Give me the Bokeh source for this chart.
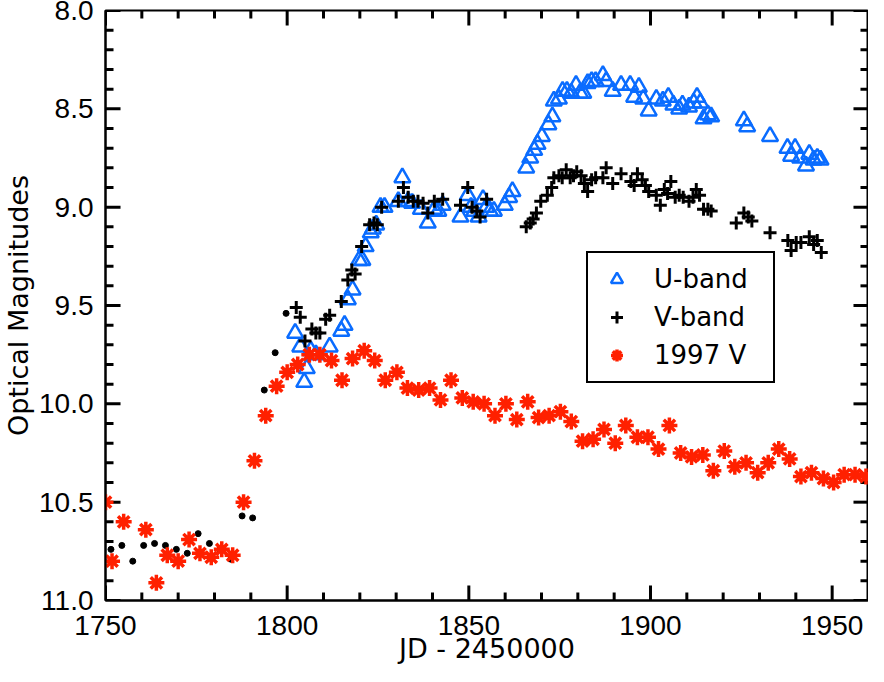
from bokeh.plotting import figure
from bokeh.models import Range1d, FixedTicker, PrintfTickFormatter, Legend, LegendItem
from bokeh.embed import file_html
from bokeh.resources import INLINE

# ---------------- data ----------------
x_lo, x_hi = 1750, 1960
y_top, y_bot = 8.0, 11.0
x_major = [1750, 1800, 1850, 1900, 1950]
x_minor = [1760, 1770, 1780, 1790, 1810, 1820, 1830, 1840, 1860, 1870, 1880, 1890,
           1910, 1920, 1930, 1940]
y_major = [8.0, 8.5, 9.0, 9.5, 10.0, 10.5, 11.0]
y_minor = [8.1, 8.2, 8.3, 8.4, 8.6, 8.7, 8.8, 8.9, 9.1, 9.2, 9.3, 9.4, 9.6, 9.7, 9.8, 9.9,
           10.1, 10.2, 10.3, 10.4, 10.6, 10.7, 10.8, 10.9]

u_jd = [1802.2, 1803.6, 1804.7, 1805.4, 1806.5, 1807.9, 1811.7, 1814.9, 1815.8, 1816.7,
        1818.0, 1819.8, 1820.7, 1821.6, 1823.0, 1823.6, 1824.5, 1825.7, 1826.8, 1830.6,
        1831.7, 1833.3, 1834.4, 1836.8, 1838.7, 1840.5, 1841.6, 1842.8, 1847.7, 1849.7,
        1850.6, 1851.5, 1852.7, 1853.9, 1854.8, 1855.8, 1856.9, 1859.9, 1861.1, 1862.0,
        1865.8, 1866.9, 1868.0, 1868.9, 1870.1, 1871.9, 1873.0, 1873.4, 1874.8, 1875.8,
        1877.0, 1878.2, 1879.5, 1880.6, 1881.5, 1882.7, 1883.8, 1884.9, 1886.9, 1887.8,
        1889.6, 1891.9, 1894.4, 1895.5, 1896.8, 1898.0, 1899.5, 1901.6, 1903.4, 1904.9,
        1906.3, 1907.9, 1908.8, 1910.6, 1911.9, 1912.8, 1913.7, 1914.6, 1915.8, 1916.7,
        1925.7, 1926.6, 1932.9, 1937.7, 1938.7, 1939.8, 1941.2, 1942.8, 1943.7, 1944.9,
        1945.9, 1946.8]
u_mag = [9.64, 9.71, 9.89, 9.82, 9.73, 9.75, 9.71, 9.63, 9.60, 9.47,
         9.42, 9.27, 9.27, 9.20, 9.13, 9.11, 9.09, 9.00, 9.00, 8.97,
         8.85, 8.97, 8.98, 9.01, 9.08, 9.01, 9.02, 8.99, 9.05, 8.94,
         9.00, 9.02, 9.05, 8.96, 9.00, 9.02, 9.02, 8.99, 8.95, 8.92,
         8.80, 8.75, 8.71, 8.68, 8.64, 8.58, 8.54, 8.46, 8.45, 8.41,
         8.41, 8.42, 8.38, 8.42, 8.42, 8.37, 8.36, 8.36, 8.33, 8.36,
         8.41, 8.38, 8.38, 8.44, 8.39, 8.45, 8.51, 8.45, 8.46, 8.44,
         8.48, 8.50, 8.48, 8.49, 8.47, 8.44, 8.47, 8.55, 8.53, 8.54,
         8.56, 8.59, 8.64, 8.70, 8.74, 8.70, 8.75, 8.79, 8.73, 8.76,
         8.75, 8.76]

v_jd = [1802.5, 1803.6, 1804.9, 1806.8, 1807.9, 1809.0, 1810.6, 1811.7, 1814.9, 1816.7,
        1817.8, 1818.7, 1820.5, 1822.7, 1823.9, 1824.8, 1826.0, 1830.6, 1832.0, 1833.3,
        1834.7, 1836.0, 1837.4, 1838.7, 1840.5, 1842.8, 1847.7, 1849.7, 1850.9, 1852.2,
        1853.1, 1854.9, 1865.8, 1866.9, 1867.7, 1868.6, 1869.8, 1871.6, 1872.8, 1873.4,
        1874.8, 1875.7, 1876.8, 1877.9, 1878.8, 1879.7, 1880.9, 1881.8, 1882.7, 1883.8,
        1884.9, 1886.9, 1887.8, 1889.6, 1891.9, 1894.6, 1895.5, 1896.4, 1897.7, 1898.6,
        1899.5, 1901.6, 1902.7, 1903.8, 1904.7, 1905.6, 1906.8, 1907.9, 1909.0, 1910.6,
        1911.7, 1912.6, 1913.5, 1914.6, 1915.8, 1916.7, 1923.6, 1925.7, 1926.9, 1927.9,
        1932.9, 1937.8, 1938.7, 1940.1, 1941.4, 1943.7, 1944.9, 1945.9, 1947.0]
v_mag = [9.51, 9.56, 9.68, 9.62, 9.64, 9.64, 9.57, 9.55, 9.48, 9.37,
         9.32, 9.34, 9.20, 9.09, 9.08, 9.09, 9.00, 8.97, 8.90, 8.95,
         8.97, 8.97, 8.98, 9.03, 8.97, 8.96, 8.99, 8.90, 9.00, 9.02,
         9.05, 8.96, 9.10, 9.08, 9.06, 9.03, 8.97, 8.94, 8.90, 8.85,
         8.84, 8.85, 8.81, 8.85, 8.84, 8.82, 8.84, 8.88, 8.92, 8.86,
         8.85, 8.85, 8.80, 8.88, 8.83, 8.87, 8.89, 8.83, 8.86, 8.89,
         8.92, 8.94, 8.99, 8.91, 8.93, 8.87, 8.95, 8.94, 8.95, 8.97,
         8.95, 8.91, 8.94, 9.01, 9.01, 9.02, 9.08, 9.03, 9.05, 9.07,
         9.13, 9.17, 9.22, 9.18, 9.18, 9.15, 9.19, 9.17, 9.23]

pre_jd = [1751.5, 1754.5, 1757.5, 1760.5, 1763.5, 1766.5, 1769.5, 1772.5, 1775.5, 1778.6,
          1781.5, 1784.5, 1787.6, 1790.5, 1793.7, 1796.7, 1799.7]
pre_mag = [10.74, 10.72, 10.80, 10.72, 10.71, 10.72, 10.74, 10.76, 10.66, 10.71,
           10.74, 10.79, 10.57, 10.58, 9.93, 9.74, 9.54]

r_jd = [1750.0, 1751.8, 1755.0, 1761.1, 1764.0, 1767.0, 1770.0, 1773.0, 1776.0, 1779.1,
        1782.0, 1785.0, 1788.0, 1791.0, 1794.1, 1797.1, 1800.0, 1802.9, 1806.1, 1809.0,
        1812.2, 1815.1, 1818.0, 1821.2, 1824.1, 1827.0, 1830.2, 1833.1, 1836.2, 1839.2,
        1842.2, 1845.1, 1848.2, 1851.2, 1854.2, 1857.2, 1860.2, 1863.2, 1866.2, 1869.2,
        1872.1, 1875.2, 1878.2, 1881.3, 1884.2, 1887.2, 1890.3, 1893.2, 1896.4, 1899.3,
        1902.2, 1905.2, 1908.3, 1911.3, 1914.4, 1917.3, 1920.3, 1923.2, 1926.3, 1929.5,
        1932.4, 1935.3, 1938.3, 1941.4, 1944.3, 1947.6, 1950.4, 1953.3, 1956.3, 1959.3]
r_mag = [10.50, 10.80, 10.60, 10.64, 10.91, 10.77, 10.80, 10.69, 10.76, 10.78,
         10.74, 10.77, 10.50, 10.29, 10.06, 9.91, 9.84, 9.80, 9.75, 9.75,
         9.78, 9.88, 9.77, 9.73, 9.78, 9.88, 9.84, 9.92, 9.93, 9.92,
         9.98, 9.88, 9.97, 9.99, 10.00, 10.06, 10.00, 10.08, 9.99, 10.07,
         10.06, 10.04, 10.09, 10.19, 10.18, 10.13, 10.20, 10.11, 10.17, 10.17,
         10.23, 10.11, 10.25, 10.27, 10.26, 10.34, 10.24, 10.32, 10.30, 10.35,
         10.30, 10.23, 10.28, 10.37, 10.35, 10.38, 10.40, 10.36, 10.36, 10.37]

series_labels = ["U-band", "V-band", "1997 V"]

# ---------------- figure ----------------
BLUE = "#0a6cff"
RED = "#ff2000"
TICK_FONT = "Liberation Sans"
TITLE_FONT = "DejaVu Sans"
TICK_SIZE = "28px"

p = figure(width=868, height=666, output_backend="svg", toolbar_location=None,
           x_range=Range1d(x_lo, x_hi), y_range=Range1d(y_bot, y_top),
           min_border_left=105, min_border_right=0, min_border_top=10, min_border_bottom=0,
           x_axis_label="JD - 2450000", y_axis_label="Optical Magnitudes")
p.grid.visible = False
p.outline_line_color = "black"
p.outline_line_width = 2
p.outline_line_alpha = 1
p.background_fill_color = "white"
p.border_fill_color = "white"


def style(ax):
    ax.axis_line_color = "black"
    ax.axis_line_width = 2
    ax.major_tick_in = 0
    ax.major_tick_out = 0
    ax.minor_tick_in = 0
    ax.minor_tick_out = 0
    ax.major_label_text_font = TICK_FONT
    ax.major_label_text_font_size = TICK_SIZE
    ax.major_label_text_color = "black"
    ax.axis_label_text_font = TITLE_FONT
    ax.axis_label_text_font_style = "normal"
    ax.axis_label_text_font_size = "27px"
    ax.axis_label_text_color = "black"


xa = p.xaxis[0]
xa.ticker = FixedTicker(ticks=x_major, minor_ticks=x_minor)
xa.formatter = PrintfTickFormatter(format="%d")
style(xa)
xa.major_label_standoff = 15
xa.axis_label_standoff = -5

ya = p.yaxis[0]
ya.ticker = FixedTicker(ticks=y_major, minor_ticks=y_minor)
ya.formatter = PrintfTickFormatter(format="%.1f")
style(ya)
ya.major_label_standoff = 12
ya.axis_label_standoff = 2

# inward tick marks on all four sides, drawn inside the frame
# (lengths: 15 px major / 8 px minor, converted with the frame's scale)
px_x = 762 / (x_hi - x_lo)
px_y = 588 / (y_bot - y_top)
TK = dict(line_color="black", line_width=3, line_alpha=1.0)
for ticks, n_px in ((y_major, 15), (y_minor, 8)):
    d = n_px / px_x
    p.segment(x0=[x_lo] * len(ticks), y0=ticks, x1=[x_lo + d] * len(ticks), y1=ticks, **TK)
    p.segment(x0=[x_hi] * len(ticks), y0=ticks, x1=[x_hi - d] * len(ticks), y1=ticks, **TK)
for ticks, n_px in ((x_major, 15), (x_minor, 8)):
    d = n_px / px_y
    p.segment(x0=ticks, y0=[y_bot] * len(ticks), x1=ticks, y1=[y_bot - d] * len(ticks), **TK)
    p.segment(x0=ticks, y0=[y_top] * len(ticks), x1=ticks, y1=[y_top + d] * len(ticks), **TK)

# ---------------- data marks ----------------
r_u = p.scatter(u_jd, u_mag, marker="triangle", size=16, fill_color=None,
                line_color=BLUE, line_width=2.5)
r_v = p.scatter(v_jd, v_mag, marker="cross", size=13, line_color="black", line_width=3)
p.scatter(pre_jd, pre_mag, marker="circle", size=6, fill_color="black", line_color="black")
r_r = p.scatter(r_jd, r_mag, marker="asterisk", size=16, line_color=RED, line_width=3.5)

legend = Legend(items=[LegendItem(label=series_labels[0], renderers=[r_u]),
                       LegendItem(label=series_labels[1], renderers=[r_v]),
                       LegendItem(label=series_labels[2], renderers=[r_r])],
                location=(481, 217))
legend.border_line_color = "black"
legend.border_line_width = 2
legend.border_line_alpha = 1
legend.background_fill_color = "white"
legend.background_fill_alpha = 1
legend.padding = 11
legend.spacing = 8
legend.margin = 0
legend.glyph_width = 35
legend.glyph_height = 30
legend.label_height = 30
legend.label_width = 108
legend.label_standoff = 20
legend.label_text_font = TITLE_FONT
legend.label_text_font_size = "26px"
legend.label_text_color = "black"
p.add_layout(legend)

open("out.html", "w").write(file_html(p, INLINE))
